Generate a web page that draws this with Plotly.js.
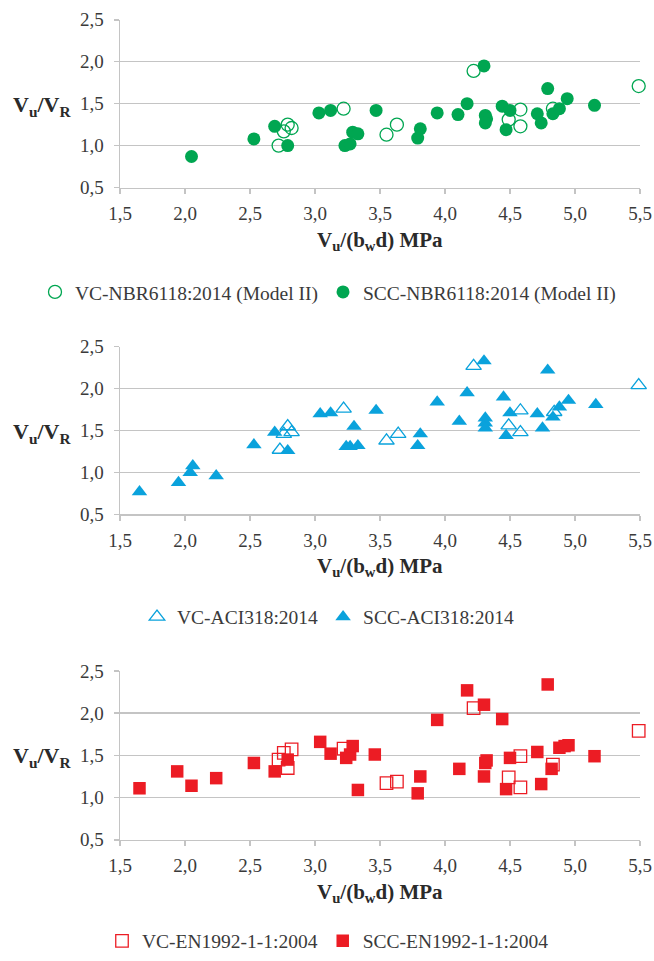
<!DOCTYPE html>
<html>
<head>
<meta charset="utf-8">
<script src="https://cdn.plot.ly/plotly-3.0.1.min.js"></script>
<style>html,body{margin:0;padding:0;background:#fff;}#chart{width:654px;height:961px;}</style>
</head>
<body>
<div id="chart"></div>
<script>
// ---- Data ----
// Panel 1: NBR6118:2014 (Model II)
const nbrVcX  = [2.72, 2.76, 2.79, 2.82, 3.22, 3.55, 3.63, 4.22, 4.49, 4.58, 4.58, 4.83, 5.49];
const nbrVcY  = [1.00, 1.17, 1.25, 1.21, 1.44, 1.13, 1.25, 1.89, 1.31, 1.43, 1.23, 1.44, 1.71];
const nbrSccX = [2.05, 2.53, 2.69, 2.79, 3.03, 3.12, 3.23, 3.27, 3.29, 3.33, 3.47, 3.79, 3.81, 3.94, 4.10, 4.17, 4.30, 4.31, 4.32, 4.31, 4.44, 4.47, 4.50, 4.71, 4.74, 4.79, 4.83, 4.88, 4.94, 5.15];
const nbrSccY = [0.87, 1.08, 1.23, 1.00, 1.39, 1.42, 1.00, 1.02, 1.16, 1.14, 1.42, 1.09, 1.20, 1.39, 1.37, 1.50, 1.95, 1.36, 1.32, 1.27, 1.47, 1.19, 1.42, 1.38, 1.27, 1.68, 1.38, 1.44, 1.56, 1.48];

// Panel 2: ACI318:2014
const aciVcX  = [2.73, 2.76, 2.79, 2.82, 3.22, 3.55, 3.64, 4.22, 4.49, 4.58, 4.58, 4.84, 5.49];
const aciVcY  = [1.27, 1.46, 1.55, 1.48, 1.76, 1.38, 1.46, 2.27, 1.56, 1.74, 1.48, 1.72, 2.04];
const aciSccX = [1.65, 1.95, 2.04, 2.06, 2.24, 2.53, 2.69, 2.79, 3.04, 3.12, 3.24, 3.27, 3.30, 3.33, 3.47, 3.79, 3.81, 3.94, 4.11, 4.17, 4.30, 4.31, 4.31, 4.31, 4.45, 4.47, 4.50, 4.71, 4.75, 4.79, 4.83, 4.88, 4.95, 5.16];
const aciSccY = [0.77, 0.88, 1.00, 1.08, 0.96, 1.33, 1.48, 1.26, 1.70, 1.71, 1.31, 1.31, 1.55, 1.32, 1.74, 1.32, 1.46, 1.84, 1.61, 1.95, 2.33, 1.65, 1.59, 1.53, 1.90, 1.44, 1.71, 1.70, 1.53, 2.22, 1.66, 1.78, 1.86, 1.81];

// Panel 3: EN1992-1-1:2004
const ecVcX  = [2.72, 2.76, 2.79, 2.82, 3.22, 3.55, 3.63, 4.22, 4.49, 4.58, 4.58, 4.83, 5.49];
const ecVcY  = [1.45, 1.53, 1.35, 1.57, 1.58, 1.17, 1.19, 2.06, 1.24, 1.49, 1.12, 1.39, 1.79];
const ecSccX = [1.65, 1.94, 2.05, 2.24, 2.53, 2.69, 2.79, 3.04, 3.12, 3.24, 3.27, 3.29, 3.33, 3.46, 3.79, 3.81, 3.94, 4.11, 4.17, 4.30, 4.31, 4.32, 4.30, 4.44, 4.47, 4.50, 4.71, 4.74, 4.79, 4.82, 4.88, 4.92, 4.95, 5.15];
const ecSccY = [1.11, 1.31, 1.14, 1.23, 1.41, 1.31, 1.45, 1.66, 1.52, 1.47, 1.51, 1.61, 1.09, 1.51, 1.05, 1.25, 1.92, 1.34, 2.27, 2.10, 1.41, 1.44, 1.25, 1.93, 1.10, 1.47, 1.54, 1.16, 2.34, 1.34, 1.59, 1.61, 1.62, 1.49];

const legendNames = [
  ["VC-NBR6118:2014 (Model II)", "SCC-NBR6118:2014 (Model II)"],
  ["VC-ACI318:2014", "SCC-ACI318:2014"],
  ["VC-EN1992-1-1:2004", "SCC-EN1992-1-1:2004"]
];
const xTitle = "<b>V<sub>u</sub>/(b<sub>w</sub>d) MPa</b>";
const yTitle = "<b>V<sub>u</sub>/V<sub>R</sub></b>";

// ---- Styling ----
const W = 654, H = 961;
const FONT = "Liberation Serif, Times New Roman, serif";
const GREEN = "#00A651", BLUE = "#0AA2DC", RED = "#EC1C24";
const GRID = "#C4C4C4";

// panel pixel geometry (top, bottom of plot area)
const panels = [
  {top: 20,    bot: 189.3, legendY: 295, xTitleY: 243},
  {top: 350,   bot: 519.3, legendY: 623, xTitleY: 572},
  {top: 677.3, bot: 847.7, legendY: 950, xTitleY: 901}
];
const xLeft = 120, xRight = 640;

function pyv(p) { return 1 - p / H; }

const traces = [];
function addPair(idx, vx, vy, sx, sy, openSym, fillSym, color, size) {
  const ax = idx === 0 ? '' : String(idx + 1);
  const leg = idx === 0 ? 'legend' : 'legend' + (idx + 1);
  traces.push({
    type: 'scatter', mode: 'markers', x: vx, y: vy,
    xaxis: 'x' + ax, yaxis: 'y' + ax, legend: leg,
    name: legendNames[idx][0], cliponaxis: false,
    marker: {symbol: openSym, size: size, color: color, line: {color: color, width: 1.3}}
  });
  traces.push({
    type: 'scatter', mode: 'markers', x: sx, y: sy,
    xaxis: 'x' + ax, yaxis: 'y' + ax, legend: leg,
    name: legendNames[idx][1], cliponaxis: false,
    marker: {symbol: fillSym, size: size, color: color, line: {width: 0}}
  });
}
addPair(0, nbrVcX, nbrVcY, nbrSccX, nbrSccY, 'circle-open', 'circle', GREEN, 13);
addPair(1, aciVcX, aciVcY, aciSccX, aciSccY, 'triangle-up-open', 'triangle-up', BLUE, 13.5);
addPair(2, ecVcX, ecVcY, ecSccX, ecSccY, 'square-open', 'square', RED, 12.5);

const layout = {
  width: W, height: H,
  margin: {l: 0, r: 0, t: 0, b: 0},
  paper_bgcolor: '#fff', plot_bgcolor: '#fff',
  separators: ',.',
  font: {family: FONT, size: 19, color: '#3a3a3a'},
  showlegend: true,
  annotations: []
};

panels.forEach((p, i) => {
  const ax = i === 0 ? '' : String(i + 1);
  layout['xaxis' + ax] = {
    domain: [xLeft / W, xRight / W], range: [1.5, 5.5],
    anchor: 'y' + ax, tick0: 1.5, dtick: 0.5, tickformat: '.1f',
    showgrid: false, zeroline: false, showline: true, linecolor: GRID, linewidth: 1.5,
    ticks: 'outside', ticklen: 5, tickwidth: 1.5, tickcolor: GRID,
    ticklabelstandoff: 3,
    tickfont: {family: FONT, size: 19, color: '#3a3a3a'}, fixedrange: true
  };
  layout['yaxis' + ax] = {
    domain: [pyv(p.bot), pyv(p.top)], range: [0.5, 2.5],
    anchor: 'x' + ax, tick0: 0.5, dtick: 0.5, tickformat: '.1f',
    showgrid: true, gridcolor: GRID, gridwidth: 1.5, zeroline: false,
    showline: true, linecolor: GRID, linewidth: 1.5,
    ticks: 'outside', ticklen: 5, tickwidth: 1.5, tickcolor: GRID,
    ticklabelstandoff: 6,
    tickfont: {family: FONT, size: 19, color: '#3a3a3a'}, fixedrange: true
  };
  const leg = i === 0 ? 'legend' : 'legend' + (i + 1);
  layout[leg] = {
    orientation: 'h', x: 328 / W, xanchor: 'center',
    y: pyv(p.legendY), yanchor: 'middle',
    font: {family: FONT, size: 19.5, color: '#3a3a3a'},
    bgcolor: 'rgba(0,0,0,0)', itemwidth: 30, tracegroupgap: 0
  };
  layout.annotations.push({
    xref: 'paper', yref: 'paper', x: (xLeft + xRight) / 2 / W, y: pyv(p.xTitleY),
    xanchor: 'center', yanchor: 'middle', showarrow: false, text: xTitle,
    font: {family: FONT, size: 21, color: '#2a2a2a'}
  });
  layout.annotations.push({
    xref: 'paper', yref: 'paper', x: 42 / W, y: pyv(p.top + (p.bot - p.top) / 2 + 2),
    xanchor: 'center', yanchor: 'middle', showarrow: false, text: yTitle,
    font: {family: FONT, size: 22, color: '#2a2a2a'}
  });
});

Plotly.newPlot('chart', traces, layout, {staticPlot: true, displayModeBar: false});
</script>
</body>
</html>
